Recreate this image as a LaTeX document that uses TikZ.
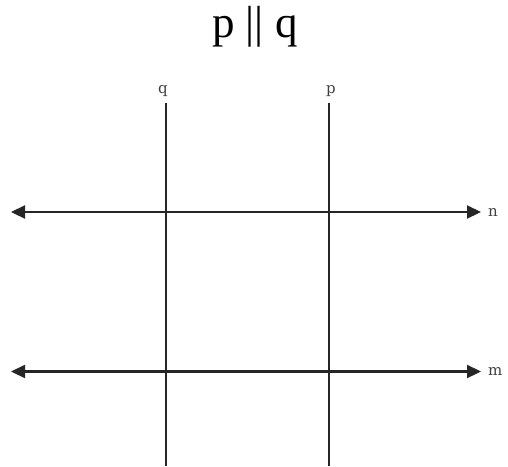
\documentclass[tikz,border=0pt]{standalone}
\usepackage{fontspec}
\setmainfont{Liberation Serif}
\newfontfamily\labelfont{DejaVu Serif}
\usetikzlibrary{arrows.meta}
\begin{document}
\begin{tikzpicture}[x=1pt,y=-1pt,
  geoline/.style={line width=2.2pt,draw=black!85},
  geoarrow/.style={geoline,{Triangle[length=14pt,width=13pt]}-{Triangle[length=14pt,width=13pt]}},
  lbl/.style={font=\labelfont\fontsize{15}{17}\selectfont,text=black!75,inner sep=0pt},
  ttl/.style={font=\fontsize{45}{50}\selectfont,inner sep=0pt}]
\useasboundingbox (0,0) rectangle (508,466);
% title
\node[ttl,anchor=base] (title) at (255,37) {p || q};
% vertical lines
\coordinate (qtop) at (166,103);
\coordinate (qbot) at (166,466);
\coordinate (ptop) at (329,103);
\coordinate (pbot) at (329,466);
\draw[geoline] (qtop) -- (qbot);
\draw[geoline] (ptop) -- (pbot);
\node[lbl,anchor=base] (ql) at (163,93) {q};
\node[lbl,anchor=base] (pl) at (331,93) {p};
% horizontal lines
\coordinate (nl) at (11,212);
\coordinate (nr) at (481,212);
\coordinate (ml) at (11,371.5);
\coordinate (mr) at (481,371.5);
\draw[geoarrow] (nl) -- (nr);
\draw[geoarrow] (ml) -- (mr);
\node[lbl,anchor=west] (nlab) at (488,212) {n};
\node[lbl,anchor=west] (mlab) at (488,371.5) {m};
\end{tikzpicture}
\end{document}
